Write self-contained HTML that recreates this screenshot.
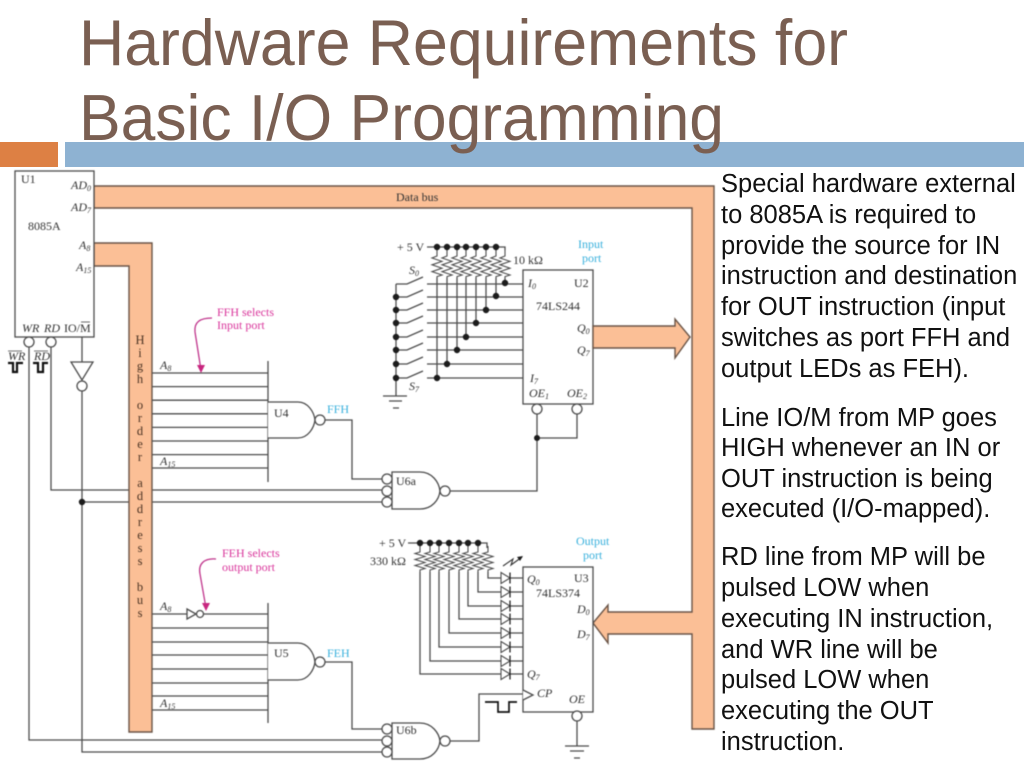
<!DOCTYPE html>
<html><head><meta charset="utf-8"><style>
html,body{margin:0;padding:0;background:#fff;width:1024px;height:767px;overflow:hidden}
svg{display:block;position:absolute;left:0;top:0}
.d{filter:blur(.45px)}
.l{fill:none;stroke:#4d4d4d;stroke-width:1.3}
.g{fill:#fff;stroke:#4d4d4d;stroke-width:1.3}
.b{fill:#fbbf96;stroke:#6a5548;stroke-width:1.4}
.k{fill:#1c1c1c;stroke:none}
.s{font-family:"Liberation Serif",serif;font-size:12px;fill:#333}
.i{font-family:"Liberation Serif",serif;font-size:12px;font-style:italic;fill:#333}
.c{font-family:"Liberation Serif",serif;font-size:12px;fill:#38b0dc}
.m{font-family:"Liberation Serif",serif;font-size:12px;fill:#d9359b}
.t{font-family:"Liberation Sans",sans-serif;font-size:65px;fill:#7a5f52}
.p{font-family:"Liberation Sans",sans-serif;font-size:25.5px;fill:#111}
.h{font-family:"Liberation Serif",serif;font-size:12.5px;fill:#4a3222;text-anchor:middle}
tspan.u{font-size:8px}
</style></head><body>
<svg width="1024" height="767" viewBox="0 0 1024 767" xmlns="http://www.w3.org/2000/svg">
<defs>
<path id="r" d="M0 0v6l-5 2 10 3.4-10 3.4 10 3.4-10 3.4 10 3.4-5 1.6v2" fill="none" stroke="#4d4d4d" stroke-width="1.1"/>
<path id="r2" d="M0 0v6l-5 1.5 10 3-10 3 10 3-10 3 10 3-5 1.5v2" fill="none" stroke="#4d4d4d" stroke-width="1.1"/>
<g id="led"><path d="M501 -5.5L510 0L501 5.5Z" fill="#fff" stroke="#4d4d4d" stroke-width="1.1"/><path d="M510 -5.5V5.5" stroke="#222" stroke-width="1.3"/></g>
<path id="sw" d="M396 0H407L423 -7M427 0H523" fill="none" stroke="#4d4d4d" stroke-width="1.3"/>
</defs>
<rect x="0" y="0" width="1024" height="767" fill="#fff"/>
<g class="d">
<!-- long wires behind bus -->
<path class="l" d="M29 347V740H382"/>
<path class="l" d="M51 347V490H382"/>
<path class="l" d="M82 391V752H382"/>
<path class="l" d="M82 502H382"/>
<circle class="k" cx="82" cy="502" r="3.2"/>

<!-- buses -->
<path class="b" d="M94 186H714V729H692V634H608V643L593 623L608 605V612H692V208H94Z"/>
<path class="b" d="M94 243H152V732H129V266H94Z"/>

<!-- U1 -->
<rect class="g" x="15" y="171" width="79" height="166"/>
<circle class="g" cx="29" cy="342" r="5"/>
<circle class="g" cx="51" cy="342" r="5"/>
<path class="l" d="M82 337V362"/>
<path class="g" d="M71 362H93L82 380Z"/>
<circle class="g" cx="82" cy="386" r="5"/>
<path d="M8 363H13V372H17V363H23" fill="none" stroke="#111" stroke-width="2.2"/>
<path d="M33 363H38V372H43V363H48" fill="none" stroke="#111" stroke-width="2.2"/>

<!-- U4 inputs -->
<path class="l" d="M268 361V482M152 373H268M152 386.6H268M152 400.2H268M152 413.8H268M152 427.4H268M152 441H268M152 454.6H268M152 468H268"/>
<path class="g" d="M268 402H298C308 402 314 412 315 420C314 428 308 438 298 438H268"/>
<circle class="g" cx="320" cy="420" r="5"/>
<path class="l" d="M325 420H352V479H382"/>

<!-- U5 inputs -->
<path class="l" d="M268 603V723M152 614H187M204 614H268M152 628H268M152 642H268M152 655H268M152 669H268M152 683H268M152 696H268M152 710H268"/>
<path class="g" d="M187 609L196 614L187 619Z"/>
<circle class="g" cx="200" cy="614" r="3.5"/>
<path class="g" d="M268 643H298C308 643 314 653 315 662C314 670 308 680 298 680H268"/>
<circle class="g" cx="320" cy="662" r="5"/>
<path class="l" d="M325 662H352V729H382"/>

<!-- U6a -->
<path class="g" d="M392 472H420C432 472 439 482 440 491C439 500 432 509 420 509H392Z"/>
<circle class="g" cx="387" cy="479" r="5"/><circle class="g" cx="387" cy="491" r="5"/><circle class="g" cx="387" cy="502" r="5"/>
<circle class="g" cx="445" cy="491" r="5"/>
<path class="l" d="M450 491H537V414M537 438H577V414"/>
<circle class="k" cx="537" cy="438" r="3"/>

<!-- U6b -->
<path class="g" d="M392 723H420C432 723 439 733 440 741C439 750 432 759 420 759H392Z"/>
<circle class="g" cx="387" cy="729" r="5"/><circle class="g" cx="387" cy="741" r="5"/><circle class="g" cx="387" cy="752" r="5"/>
<circle class="g" cx="445" cy="741" r="5"/>
<path class="l" d="M450 741H479V694H523"/>
<path d="M485 702H498V712H509V702H517" fill="none" stroke="#111" stroke-width="1.7"/>

<!-- U2 input network -->
<path class="l" d="M427 247H505V250M396 284V396"/>
<use href="#r" x="437" y="250"/><use href="#r" x="447" y="250"/><use href="#r" x="457" y="250"/><use href="#r" x="466" y="250"/><use href="#r" x="476" y="250"/><use href="#r" x="486" y="250"/><use href="#r" x="496" y="250"/><use href="#r" x="505" y="250"/>
<path class="l" d="M437 278V378M447 278V364M457 278V350M466 278V337M476 278V323M486 278V310M496 278V296M505 278V283"/>
<use href="#sw" y="284"/><use href="#sw" y="297"/><use href="#sw" y="310"/><use href="#sw" y="323"/><use href="#sw" y="337"/><use href="#sw" y="350"/><use href="#sw" y="364"/><use href="#sw" y="378"/>
<g class="k">
<circle cx="437" cy="247" r="3.2"/><circle cx="447" cy="247" r="3.2"/><circle cx="457" cy="247" r="3.2"/><circle cx="466" cy="247" r="3.2"/><circle cx="476" cy="247" r="3.2"/><circle cx="486" cy="247" r="3.2"/><circle cx="496" cy="247" r="3.2"/>
<circle cx="505" cy="283" r="3.2"/><circle cx="496" cy="296" r="3.2"/><circle cx="486" cy="310" r="3.2"/><circle cx="476" cy="323" r="3.2"/><circle cx="466" cy="337" r="3.2"/><circle cx="457" cy="350" r="3.2"/><circle cx="447" cy="364" r="3.2"/><circle cx="437" cy="378" r="3.2"/>
<circle cx="396" cy="297" r="3.2"/><circle cx="396" cy="310" r="3.2"/><circle cx="396" cy="323" r="3.2"/><circle cx="396" cy="337" r="3.2"/><circle cx="396" cy="350" r="3.2"/><circle cx="396" cy="364" r="3.2"/><circle cx="396" cy="378" r="3.2"/>
</g>
<path class="l" d="M383 396H407M389 401H402M393 408H399"/>

<!-- U2 -->
<rect class="g" x="523" y="270" width="70" height="134"/>
<circle class="g" cx="537" cy="409" r="5"/><circle class="g" cx="577" cy="409" r="5"/>
<path class="b" d="M593 326H675V319L690 337L675 358V348H593Z"/>

<!-- U3 output network -->
<path class="l" d="M408 543H487V548"/>
<use href="#r2" x="420" y="546"/><use href="#r2" x="430" y="546"/><use href="#r2" x="439" y="546"/><use href="#r2" x="449" y="546"/><use href="#r2" x="459" y="546"/><use href="#r2" x="468" y="546"/><use href="#r2" x="478" y="546"/><use href="#r2" x="488" y="546"/>
<path class="l" d="M420 572V674H501M430 572V661H501M439 572V647H501M449 572V633H501M459 572V619H501M468 572V606H501M478 572V592H501M488 572V578H501"/>
<path class="l" d="M510 578H523M510 592H523M510 606H523M510 619H523M510 633H523M510 647H523M510 661H523M510 674H523"/>
<use href="#led" y="578"/><use href="#led" y="592"/><use href="#led" y="606"/><use href="#led" y="619"/><use href="#led" y="633"/><use href="#led" y="647"/><use href="#led" y="661"/><use href="#led" y="674"/>
<path d="M503 566L513 559L511 565L522 557" fill="none" stroke="#333" stroke-width="1.1"/>
<path class="k" d="M523 556L517 557L520 561Z"/>
<g class="k">
<circle cx="420" cy="543" r="3.2"/><circle cx="430" cy="543" r="3.2"/><circle cx="439" cy="543" r="3.2"/><circle cx="449" cy="543" r="3.2"/><circle cx="459" cy="543" r="3.2"/><circle cx="468" cy="543" r="3.2"/><circle cx="478" cy="543" r="3.2"/>
</g>

<!-- U3 -->
<rect class="g" x="523" y="567" width="70" height="145"/>
<path class="g" d="M523 690L533 695L523 700"/>
<circle class="g" cx="577" cy="716" r="5"/>
<path class="l" d="M577 721V746M565 746H589M570 751H584M574 758H580"/>

<!-- magenta arrows -->
<path d="M212 318C200 318 194 322 195 332L201 370" fill="none" stroke="#c0358c" stroke-width="1.3"/>
<path d="M201 373L197 365H205Z" fill="#c8267f"/>
<path d="M216 559C204 558 198 564 200 574L206 608" fill="none" stroke="#c0358c" stroke-width="1.3"/>
<path d="M206 611L202 603H210Z" fill="#c8267f"/>

<!-- labels -->
<text class="s" x="21" y="183">U1</text>
<text class="i" x="71" y="189">AD<tspan class="u" dy="2">0</tspan></text>
<text class="i" x="71" y="211">AD<tspan class="u" dy="2">7</tspan></text>
<text class="s" x="28" y="230">8085A</text>
<text class="i" x="79" y="249">A<tspan class="u" dy="2">8</tspan></text>
<text class="i" x="76" y="271">A<tspan class="u" dy="2">15</tspan></text>
<text class="i" x="22" y="332">WR</text>
<text class="i" x="44" y="332">RD</text>
<text class="s" x="64" y="332">IO/M</text>
<path d="M81 322H90" stroke="#444" stroke-width=".8"/>
<text class="i" x="8" y="360">WR</text>
<text class="i" x="34" y="360">RD</text>
<path d="M8 351H22M34 351H48" stroke="#444" stroke-width=".8"/>
<text class="s" x="396" y="201">Data bus</text>
<text class="h" x="140" y="344">H</text><text class="h" x="140" y="357">i</text><text class="h" x="140" y="370">g</text><text class="h" x="140" y="383">h</text>
<text class="h" x="140" y="409">o</text><text class="h" x="140" y="422">r</text><text class="h" x="140" y="435">d</text><text class="h" x="140" y="448">e</text><text class="h" x="140" y="461">r</text>
<text class="h" x="140" y="487">a</text><text class="h" x="140" y="500">d</text><text class="h" x="140" y="513">d</text><text class="h" x="140" y="526">r</text><text class="h" x="140" y="539">e</text><text class="h" x="140" y="552">s</text><text class="h" x="140" y="565">s</text>
<text class="h" x="140" y="591">b</text><text class="h" x="140" y="604">u</text><text class="h" x="140" y="617">s</text>
<text class="m" x="217" y="316">FFH selects</text>
<text class="m" x="217" y="329">Input port</text>
<text class="m" x="222" y="557">FEH selects</text>
<text class="m" x="222" y="571">output port</text>
<text class="i" x="160" y="369">A<tspan class="u" dy="2">8</tspan></text>
<text class="i" x="160" y="465">A<tspan class="u" dy="2">15</tspan></text>
<text class="i" x="160" y="610">A<tspan class="u" dy="2">8</tspan></text>
<text class="i" x="160" y="707">A<tspan class="u" dy="2">15</tspan></text>
<text class="s" x="274" y="417">U4</text>
<text class="s" x="274" y="657">U5</text>
<text class="c" x="327" y="413">FFH</text>
<text class="c" x="327" y="657">FEH</text>
<text class="s" x="396" y="485">U6a</text>
<text class="s" x="396" y="734">U6b</text>
<text class="s" x="397" y="251">+ 5 V</text>
<text class="s" x="513" y="264">10 kΩ</text>
<text class="i" x="409" y="274">S<tspan class="u" dy="2">0</tspan></text>
<text class="i" x="409" y="390">S<tspan class="u" dy="2">7</tspan></text>
<text class="c" x="578" y="248">Input</text>
<text class="c" x="582" y="262">port</text>
<text class="s" x="574" y="287">U2</text>
<text class="s" x="536" y="310">74LS244</text>
<text class="i" x="528" y="287">I<tspan class="u" dy="2">0</tspan></text>
<text class="i" x="530" y="382">I<tspan class="u" dy="2">7</tspan></text>
<text class="i" x="577" y="332">Q<tspan class="u" dy="2">0</tspan></text>
<text class="i" x="577" y="354">Q<tspan class="u" dy="2">7</tspan></text>
<text class="i" x="529" y="397">OE<tspan class="u" dy="2">1</tspan></text>
<text class="i" x="567" y="397">OE<tspan class="u" dy="2">2</tspan></text>
<text class="s" x="379" y="547">+ 5 V</text>
<text class="s" x="370" y="565">330 kΩ</text>
<text class="c" x="576" y="545">Output</text>
<text class="c" x="583" y="559">port</text>
<text class="s" x="574" y="582">U3</text>
<text class="s" x="536" y="597">74LS374</text>
<text class="i" x="527" y="583">Q<tspan class="u" dy="2">0</tspan></text>
<text class="i" x="527" y="678">Q<tspan class="u" dy="2">7</tspan></text>
<text class="i" x="577" y="613">D<tspan class="u" dy="2">0</tspan></text>
<text class="i" x="577" y="638">D<tspan class="u" dy="2">7</tspan></text>
<text class="i" x="537" y="697">CP</text>
<text class="i" x="569" y="703">OE</text>
</g>

<!-- slide chrome -->
<rect x="0" y="142" width="58" height="25" fill="#dd8044"/>
<rect x="65" y="142" width="959" height="25" fill="#8eb2d2"/>
<text class="t" x="79" y="65" textLength="769" lengthAdjust="spacingAndGlyphs">Hardware Requirements for</text>
<text class="t" x="79" y="140" textLength="645" lengthAdjust="spacingAndGlyphs">Basic I/O Programming</text>

<text class="p" x="721" y="192">Special hardware external</text>
<text class="p" x="721" y="223">to 8085A is required to</text>
<text class="p" x="721" y="254">provide the source for IN</text>
<text class="p" x="721" y="284">instruction and destination</text>
<text class="p" x="721" y="315">for OUT instruction (input</text>
<text class="p" x="721" y="346">switches as port FFH and</text>
<text class="p" x="721" y="377">output LEDs as FEH).</text>
<text class="p" x="721" y="426">Line IO/M from MP goes</text>
<text class="p" x="721" y="456">HIGH whenever an IN or</text>
<text class="p" x="721" y="487">OUT instruction is being</text>
<text class="p" x="721" y="517">executed (I/O-mapped).</text>
<text class="p" x="721" y="565">RD line from MP will be</text>
<text class="p" x="721" y="596">pulsed LOW when</text>
<text class="p" x="721" y="627">executing IN instruction,</text>
<text class="p" x="721" y="658">and WR line will be</text>
<text class="p" x="721" y="688">pulsed LOW when</text>
<text class="p" x="721" y="719">executing the OUT</text>
<text class="p" x="721" y="750">instruction.</text>
</svg>
</body></html>
